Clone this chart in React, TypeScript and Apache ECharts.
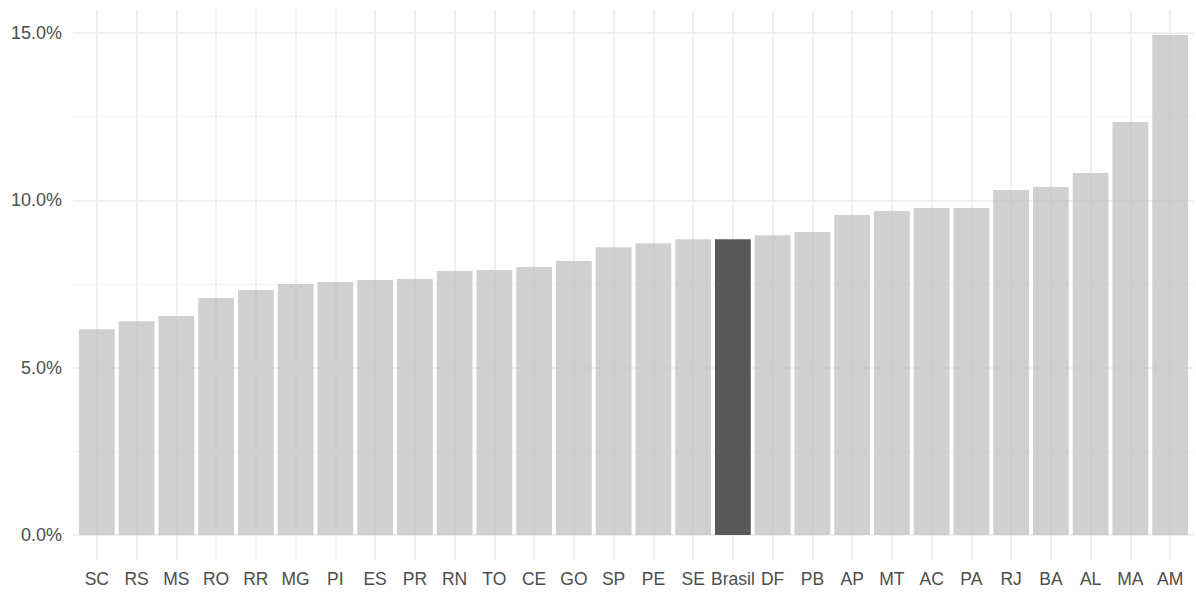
import React, { useEffect, useRef } from "react";
import * as echarts from "echarts";

const categories = ["SC","RS","MS","RO","RR","MG","PI","ES","PR","RN","TO","CE","GO","SP","PE","SE","Brasil","DF","PB","AP","MT","AC","PA","RJ","BA","AL","MA","AM"];
const values = [6.15,6.39,6.54,7.08,7.32,7.50,7.56,7.62,7.65,7.89,7.92,8.01,8.19,8.60,8.72,8.84,8.84,8.96,9.05,9.56,9.68,9.77,9.77,10.31,10.40,10.82,12.34,14.94];
const highlight = "Brasil";
const yTicks = [0, 5, 10, 15];
const yMinor = [2.5, 7.5, 12.5];

export default function App() {
  const ref = useRef<HTMLDivElement>(null);
  useEffect(() => {
    document.body.style.margin = "0";
    const chart = echarts.init(ref.current!, null, { renderer: "svg" });
    const maxV = Math.max(...values);
    const exp = maxV * 0.05;
    const n = categories.length;
    const grid = { left: 73, right: 2, top: 10, bottom: 32 };
    const plotW = 1196 - grid.left - grid.right;
    const band = plotW / (n - 1 + 1.2);
    const font = "Liberation Sans, Arial, sans-serif";
    const major = "#ebebeb";
    chart.setOption({
      animation: false,
      backgroundColor: "#ffffff",
      grid: { ...grid, containLabel: false },
      xAxis: {
        type: "value",
        min: -0.6,
        max: n - 1 + 0.6,
        axisLine: { show: false },
        axisTick: { show: false },
        splitLine: { show: false },
        axisLabel: {
          customValues: categories.map((_, i) => i),
          formatter: (v: number) => categories[Math.round(v)] ?? "",
          color: "#4d4d4d",
          fontSize: 17.5,
          fontFamily: font,
          margin: 10,
          showMinLabel: true,
          showMaxLabel: true,
        },
      },
      yAxis: {
        type: "value",
        min: -exp,
        max: maxV + exp,
        axisLine: { show: false },
        axisTick: { show: false },
        splitLine: { show: false },
        axisLabel: {
          customValues: yTicks,
          formatter: (v: number) => v.toFixed(1) + "%",
          color: "#4d4d4d",
          fontSize: 18,
          fontFamily: font,
          margin: 11,
        },
      },
      series: [
        {
          type: "bar",
          barWidth: band * 0.9,
          z: 2,
          data: values.map((v, i) => ({
            value: [i, v],
            itemStyle: { color: categories[i] === highlight ? "#595959" : "rgba(190,190,190,0.72)" },
          })),
          markLine: {
            z: 0,
            silent: true,
            symbol: "none",
            label: { show: false },
            data: [
              ...categories.map((_, i) => ({ xAxis: i, lineStyle: { color: major, width: 1.6, type: "solid" } })),
              ...yTicks.map((y) => ({ yAxis: y, lineStyle: { color: major, width: 1.6, type: "solid" } })),
              ...yMinor.map((y) => ({ yAxis: y, lineStyle: { color: "#f2f2f2", width: 0.9, type: "solid" } })),
            ],
          },
        },
      ],
    });
    return () => chart.dispose();
  }, []);
  return <div ref={ref} style={{ width: 1196, height: 592 }} />;
}
